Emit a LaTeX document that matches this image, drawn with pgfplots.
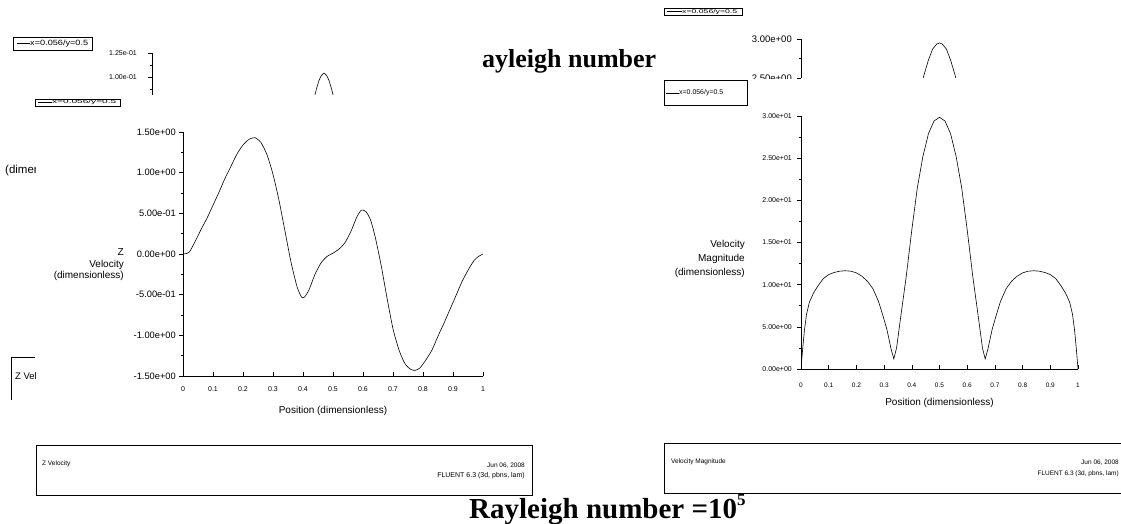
\documentclass[border=0pt]{standalone}
\usepackage{fontspec}
\setmainfont{Liberation Sans}
\newfontfamily\serifbold{Liberation Serif}
\usepackage{graphicx}
\usepackage{pgfplots}
\pgfplotsset{compat=1.18}
\newcommand{\fs}[1]{\fontsize{#1}{#1}\selectfont}
\pgfplotsset{
  fluent/.style={
    scale only axis,
    axis x line*=bottom, axis y line*=left,
    axis line style={black, line width=0.7pt},
    xmin=0, xmax=1,
    tick style={black, line width=0.6pt},
    xtick align=inside, ytick align=outside,
    major tick length=4pt, minor tick length=2.5pt,
    xtick={0,0.1,0.2,0.3,0.4,0.5,0.6,0.7,0.8,0.9,1},
    xticklabels={0,0.1,0.2,0.3,0.4,0.5,0.6,0.7,0.8,0.9,1},
    yticklabel style={anchor=east, inner sep=0pt},
    xticklabel style={anchor=center, inner sep=0pt},
  },
}
\begin{document}
\begin{tikzpicture}
\path[use as bounding box, fill=white] (0,0) rectangle (1121pt,-524pt);

% ---------- background fragment (left) ----------
\begin{axis}[fluent,
  at={(152pt,-95pt)}, anchor=south west,
  width=344pt, height=42pt,
  axis x line=none,
  ymin=0.08125, ymax=0.125,
  ytick={0.1,0.125}, yticklabels={1.00e-01,1.25e-01},
  minor ytick={0.0875,0.1125},
  yticklabel style={font=\fs{7}, xshift=-11pt},
]
\addplot[black, line width=0.6pt] coordinates {
(0.470,0.076) (0.478,0.0875) (0.485,0.096) (0.492,0.1015) (0.500,0.1042)
(0.508,0.1015) (0.515,0.096) (0.522,0.0875) (0.530,0.076)};
\end{axis}

% ---------- background fragment (right) ----------
\begin{axis}[fluent,
  at={(801pt,-78pt)}, anchor=south west,
  width=277pt, height=39pt,
  axis x line=none,
  ymin=2.5, ymax=3,
  ytick={2.5,3}, yticklabels={2.50e+00,3.00e+00},
  minor ytick={2.75},
  yticklabel style={font=\fs{9.5}, xshift=-5pt},
]
\addplot[black, line width=0.6pt] coordinates {
(0.430,2.36) (0.445,2.55) (0.460,2.73) (0.475,2.87) (0.490,2.935) (0.500,2.95)
(0.510,2.935) (0.525,2.87) (0.540,2.73) (0.555,2.55) (0.570,2.36)};
\end{axis}
\fill[white] (740pt,-78.6pt) rectangle (1000pt,-111pt);

% ---------- legend boxes and fragments ----------
\draw[line width=0.7pt] (13pt,-37pt) rectangle (92pt,-50pt);
\draw[line width=0.6pt] (17pt,-43.5pt) -- (30pt,-43.5pt);
\node[anchor=west, inner sep=0pt] at (30pt,-43.5pt) {\resizebox{58pt}{5.5pt}{x=0.056/y=0.5}};

\draw[line width=0.7pt] (35pt,-99pt) rectangle (120pt,-106pt);
\draw[line width=0.6pt] (38pt,-102pt) -- (52pt,-102pt);
\node[anchor=west, inner sep=0pt] at (52pt,-102.5pt) {\resizebox{64pt}{4pt}{x=0.056/y=0.5}};

\draw[line width=0.7pt] (664pt,-8pt) rectangle (742pt,-15pt);
\draw[line width=0.6pt] (667pt,-11.5pt) -- (682pt,-11.5pt);
\node[anchor=west, inner sep=0pt] at (682pt,-12pt) {\resizebox{55pt}{4pt}{x=0.056/y=0.5}};

\draw[line width=0.7pt] (664pt,-80pt) rectangle (747pt,-105pt);
\draw[line width=0.6pt] (666pt,-93pt) -- (679pt,-93pt);
\node[anchor=west, inner sep=0pt] at (679pt,-93pt) {\resizebox{44pt}{5pt}{x=0.056/y=0.5}};

\begin{scope}
\clip (0pt,-150pt) rectangle (35pt,-190pt);
\node[anchor=west, inner sep=0pt, font=\fs{11.5}] at (5pt,-171pt) {(dimensionless)};
\end{scope}

\draw[line width=0.7pt] (35pt,-357pt) -- (11pt,-357pt) -- (11pt,-400pt);
\begin{scope}
\clip (0pt,-360pt) rectangle (35pt,-395pt);
\node[anchor=west, inner sep=0pt, font=\fs{9.5}] at (15pt,-377pt) {Z Velocity};
\end{scope}

% ---------- titles ----------
\node[anchor=base west, inner sep=0pt] at (482pt,-68pt) {\serifbold\bfseries\fs{26}ayleigh number};
\node[anchor=base west, inner sep=0pt] at (469pt,-518pt) {\serifbold\bfseries\fs{29}Rayleigh number =10\raisebox{0.42em}{\fs{17}5}};

% ---------- main left plot ----------
\begin{axis}[fluent,
  at={(183pt,-376pt)}, anchor=south west,
  width=300pt, height=244pt,
  ymin=-1.5, ymax=1.5,
  ytick={-1.5,-1,-0.5,0,0.5,1,1.5},
  yticklabels={-1.50e+00,-1.00e+00,-5.00e-01,0.00e+00,5.00e-01,1.00e+00,1.50e+00},
  minor ytick={-1.25,-0.75,-0.25,0.25,0.75,1.25},
  yticklabel style={font=\fs{9.3}, xshift=-3pt},
  xticklabel style={font=\fs{7}, yshift=-13pt},
  xlabel={Position (dimensionless)},
  xlabel style={font=\fs{10}, at={(axis description cs:0.5,0)}, anchor=center, yshift=-35pt},
]
\addplot[black, line width=0.6pt, smooth, tension=0.4] coordinates {
(0,0) (0.02,0.02) (0.04,0.15) (0.06,0.30) (0.08,0.44) (0.10,0.60) (0.12,0.76)
(0.14,0.93) (0.16,1.08) (0.18,1.23) (0.20,1.34) (0.22,1.41) (0.24,1.43) (0.26,1.37)
(0.28,1.22) (0.30,0.98) (0.32,0.66) (0.34,0.28) (0.36,-0.10) (0.38,-0.40)
(0.395,-0.53) (0.405,-0.53) (0.42,-0.44) (0.44,-0.25) (0.46,-0.11) (0.48,-0.03)
(0.50,0.01) (0.52,0.06) (0.54,0.14) (0.56,0.28) (0.58,0.46) (0.595,0.54)
(0.61,0.52) (0.625,0.42) (0.64,0.22) (0.66,-0.13) (0.68,-0.54) (0.70,-0.92)
(0.72,-1.18) (0.74,-1.35) (0.76,-1.42) (0.775,-1.43) (0.79,-1.40) (0.81,-1.30)
(0.83,-1.18) (0.85,-1.01) (0.87,-0.85) (0.89,-0.68) (0.91,-0.51) (0.93,-0.34)
(0.95,-0.20) (0.97,-0.08) (0.985,-0.03) (1,0)};
\end{axis}
\node[anchor=east, align=right, inner sep=0pt, font=\fontsize{10}{11.5}\selectfont] at (124pt,-265pt) {Z\\Velocity\\(dimensionless)};

% ---------- main right plot ----------
\begin{axis}[fluent,
  at={(801pt,-369pt)}, anchor=south west,
  width=277pt, height=253pt,
  ymin=0, ymax=30,
  ytick={0,5,10,15,20,25,30},
  yticklabels={0.00e+00,5.00e+00,1.00e+01,1.50e+01,2.00e+01,2.50e+01,3.00e+01},
  minor ytick={2.5,7.5,12.5,17.5,22.5,27.5},
  yticklabel style={font=\fs{7}, xshift=-5pt},
  xticklabel style={font=\fs{6.5}, yshift=-16pt},
  xlabel={Position (dimensionless)},
  xlabel style={font=\fs{10}, at={(axis description cs:0.5,0)}, anchor=center, yshift=-34pt},
]
\addplot[black, line width=0.6pt] coordinates {
(0,0) (0.005,2.0) (0.012,4.5) (0.02,6.5) (0.03,7.9) (0.045,9.0) (0.06,9.8)
(0.08,10.7) (0.10,11.2) (0.12,11.45) (0.14,11.6) (0.16,11.65) (0.18,11.6)
(0.20,11.4) (0.22,11.0) (0.24,10.4) (0.26,9.5) (0.28,8.0) (0.295,6.4) (0.31,4.7)
(0.325,2.4) (0.335,1.2) (0.345,2.5) (0.36,6.2) (0.38,11.0) (0.40,16.5) (0.42,21.5)
(0.44,25.2) (0.46,27.9) (0.48,29.4) (0.50,29.85) (0.52,29.4) (0.54,27.9)
(0.56,25.2) (0.58,21.5) (0.60,16.5) (0.62,11.0) (0.64,6.2) (0.655,2.5)
(0.665,1.2) (0.675,2.4) (0.69,4.7) (0.705,6.4) (0.72,8.0) (0.74,9.5) (0.76,10.4)
(0.78,11.0) (0.80,11.4) (0.82,11.6) (0.84,11.65) (0.86,11.6) (0.88,11.45)
(0.90,11.2) (0.92,10.7) (0.94,9.8) (0.955,9.0) (0.97,7.9) (0.98,6.5) (0.988,4.5)
(0.995,2.0) (1,0)};
\end{axis}
\node[anchor=east, align=right, inner sep=0pt, font=\fontsize{10}{14}\selectfont] at (745pt,-259pt) {Velocity\\Magnitude\\(dimensionless)};

% ---------- bottom info boxes ----------
\draw[line width=0.8pt] (36pt,-445pt) rectangle (532pt,-495pt);
\node[anchor=west, inner sep=0pt, font=\fs{6.5}] at (42pt,-464pt) {Z Velocity};
\node[anchor=east, inner sep=0pt, font=\fs{6.5}] at (525pt,-466pt) {Jun 06, 2008};
\node[anchor=east, inner sep=0pt, font=\fs{7}] at (525pt,-476pt) {FLUENT 6.3 (3d, pbns, lam)};

\draw[line width=0.8pt] (1122pt,-443pt) -- (664pt,-443pt) -- (664pt,-493pt) -- (1122pt,-493pt);
\node[anchor=west, inner sep=0pt, font=\fs{6.5}] at (671pt,-462pt) {Velocity Magnitude};
\node[anchor=east, inner sep=0pt, font=\fs{6.5}] at (1119pt,-463pt) {Jun 06, 2008};
\node[anchor=east, inner sep=0pt, font=\fs{6.5}] at (1119pt,-474pt) {FLUENT 6.3 (3d, pbns, lam)};
\end{tikzpicture}
\end{document}
